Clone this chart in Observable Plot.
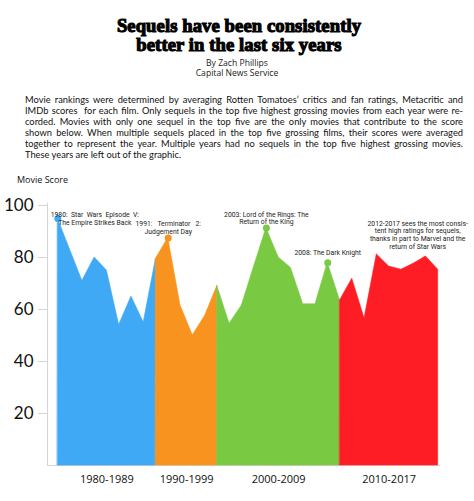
<!DOCTYPE html>
<html><head><meta charset="utf-8">
<script src="https://cdn.jsdelivr.net/npm/d3@7"></script>
<script src="https://cdn.jsdelivr.net/npm/@observablehq/plot@0.6"></script>
<style>
html,body{margin:0;padding:0;background:#fff;}
#wrap{position:relative;width:474px;height:501px;overflow:hidden;color:#111;}
.title{position:absolute;left:2px;width:474px;top:15.5px;text-align:center;font-family:"Liberation Serif",serif;font-weight:bold;font-size:18.6px;line-height:19px;-webkit-text-stroke:1.1px #000;color:#000;letter-spacing:0.1px;}
.byline{position:absolute;left:0;width:474px;top:57.5px;text-align:center;font-family:"Open Sans",sans-serif;font-size:8.6px;line-height:10.5px;color:#222;}
.para{position:absolute;left:25px;width:438px;top:93.6px;font-family:Lato,sans-serif;font-size:9.3px;line-height:11.15px;color:#111;}
.para div{text-align:justify;text-align-last:justify;}
.para div.last{text-align-last:left;}
.ylab{position:absolute;left:17px;top:174px;font-family:"Open Sans",sans-serif;font-size:9px;line-height:12px;color:#111;}
#chart{position:absolute;left:0;top:186px;}
#chart text.note{letter-spacing:-0.35px;}
</style></head>
<body><div id="wrap">
<div class="title">Sequels have been consistently<br>better in the last six years</div>
<div class="byline">By Zach Phillips<br>Capital News Service</div>
<div class="para">
<div>Movie rankings were determined by averaging Rotten Tomatoes’ critics and fan ratings, Metacritic and</div>
<div>IMDb scores&nbsp; for each film. Only sequels in the top five highest grossing movies from each year were re-</div>
<div>corded. Movies with only one sequel in the top five are the only movies that contribute to the score</div>
<div>shown below. When multiple sequels placed in the top five grossing films, their scores were averaged</div>
<div>together to represent the year. Multiple years had no sequels in the top five highest grossing movies.</div>
<div class="last">These years are left out of the graphic.</div>
</div>
<div class="ylab">Movie Score</div>
<div id="chart"></div>
</div>
<script>
// ---- data (years with no sequels in the top five are left out) ----
const years = [1980,1981,1982,1983,1984,1985,1986,1987,1989,
               1991,1992,1995,1997,1999,
               2000,2001,2002,2003,2004,2005,2006,2007,2008,2009,
               2010,2011,2012,2013,2014,2015,2016,2017];
const scores = [95,83,71,80,75,54,65,55,79.5,
                87.5,61.5,50,57.5,69,
                54.5,61.5,76.5,91.3,80,76,62,62,78,63.5,
                71.8,56.5,81.2,76.5,75.3,77.6,80.4,75.3];
const decades = ["1980-1989","1990-1999","2000-2009","2010-2017"];
const decadeColors = ["#3fa9f5","#f7931e","#7ac943","#ff1d25"];
const highlightYears = [1980,1991,2003,2008];
const highlightNotes = [
  "1980:  Star  Wars  Episode  V:\nThe Empire Strikes Back",
  "1991:   Terminator   2:\nJudgement Day",
  "2003: Lord of the Rings: The\nReturn of the King",
  "2008: The Dark Knight"
];
const recentNoteYear = 2015;
const recentNote = "2012-2017 sees the most consis-\ntent high ratings for sequels,\nthanks in part to Marvel and the\nreturn of Star Wars";
const yTicks = [20,40,60,80,100];

// ---- build tables ----
const decadeOf = y => y < 1990 ? 0 : y < 2000 ? 1 : y < 2010 ? 2 : 3;
const rows = years.map((year, i) => ({i, year, score: scores[i], decade: decades[decadeOf(year)]}));
const segments = [];
decades.forEach((dec, d) => {
  const idx = rows.filter(r => r.decade === dec).map(r => r.i);
  const first = idx[0], last = idx[idx.length - 1];
  const start = d === 0 ? first : rows.filter(r => r.decade === decades[d-1]).slice(-1)[0].i;
  for (let k = start; k <= last; k++) segments.push({...rows[k], seg: dec});
});
const decadeLabels = decades.map(dec => {
  const s = segments.filter(r => r.seg === dec);
  return {decade: dec, mid: (s[0].i + s[s.length-1].i) / 2};
});
const hi = highlightYears.map((y, k) => ({...rows.find(r => r.year === y), note: highlightNotes[k]}));
const recent = [{...rows.find(r => r.year === recentNoteYear), note: recentNote}];

const noteFont = {fontFamily: "Roboto, sans-serif", fontSize: 6.8, lineHeight: 1.13, fill: "#222", lineAnchor: "middle", className: "note"};
const noteOffsets = [[37, 0], [0, -10.5], [0, -10], [0, -10]];

const chart = Plot.plot({
  width: 474,
  height: 315,
  marginLeft: 47,
  marginRight: 34,
  marginTop: 19,
  marginBottom: 36,
  style: {fontFamily: "Lato, sans-serif", background: "#fff", overflow: "visible"},
  x: {type: "linear", domain: [-0.84, 31.19], axis: null},
  y: {domain: [0, 100], axis: null},
  color: {domain: decades, range: decadeColors},
  marks: [
    Plot.ruleY([0], {stroke: "#d4d4d4", strokeWidth: 1}),
    Plot.ruleX([-0.84], {y1: 0, y2: 100.8, stroke: "#d4d4d4", strokeWidth: 1}),
    Plot.axisY(yTicks, {tickSize: 9, tickPadding: 5, fontSize: 17, stroke: "#d4d4d4", fill: "#111", label: null, fontFamily: "Lato, sans-serif"}),
    Plot.areaY(segments, {x: "i", y1: 0, y2: "score", fill: "seg", stroke: "seg", strokeWidth: 0.6, strokeLinejoin: "miter", z: "seg", curve: "linear"}),
    Plot.dot(hi, {x: "i", y: "score", r: 3.5, fill: "decade"}),
    ...hi.map((h, k) => Plot.text([h], {x: "i", y: "score", text: "note", dx: noteOffsets[k][0], dy: noteOffsets[k][1], ...noteFont})),
    Plot.text(recent, {x: "i", y: "score", text: "note", dx: 4, dy: -29, ...noteFont}),
    Plot.text(decadeLabels, {x: "mid", text: "decade", frameAnchor: "bottom", dy: 17, fontSize: 11, fill: "#111", fontFamily: "'Open Sans', sans-serif"})
  ]
});
document.getElementById("chart").appendChild(chart);
</script>
</body></html>
